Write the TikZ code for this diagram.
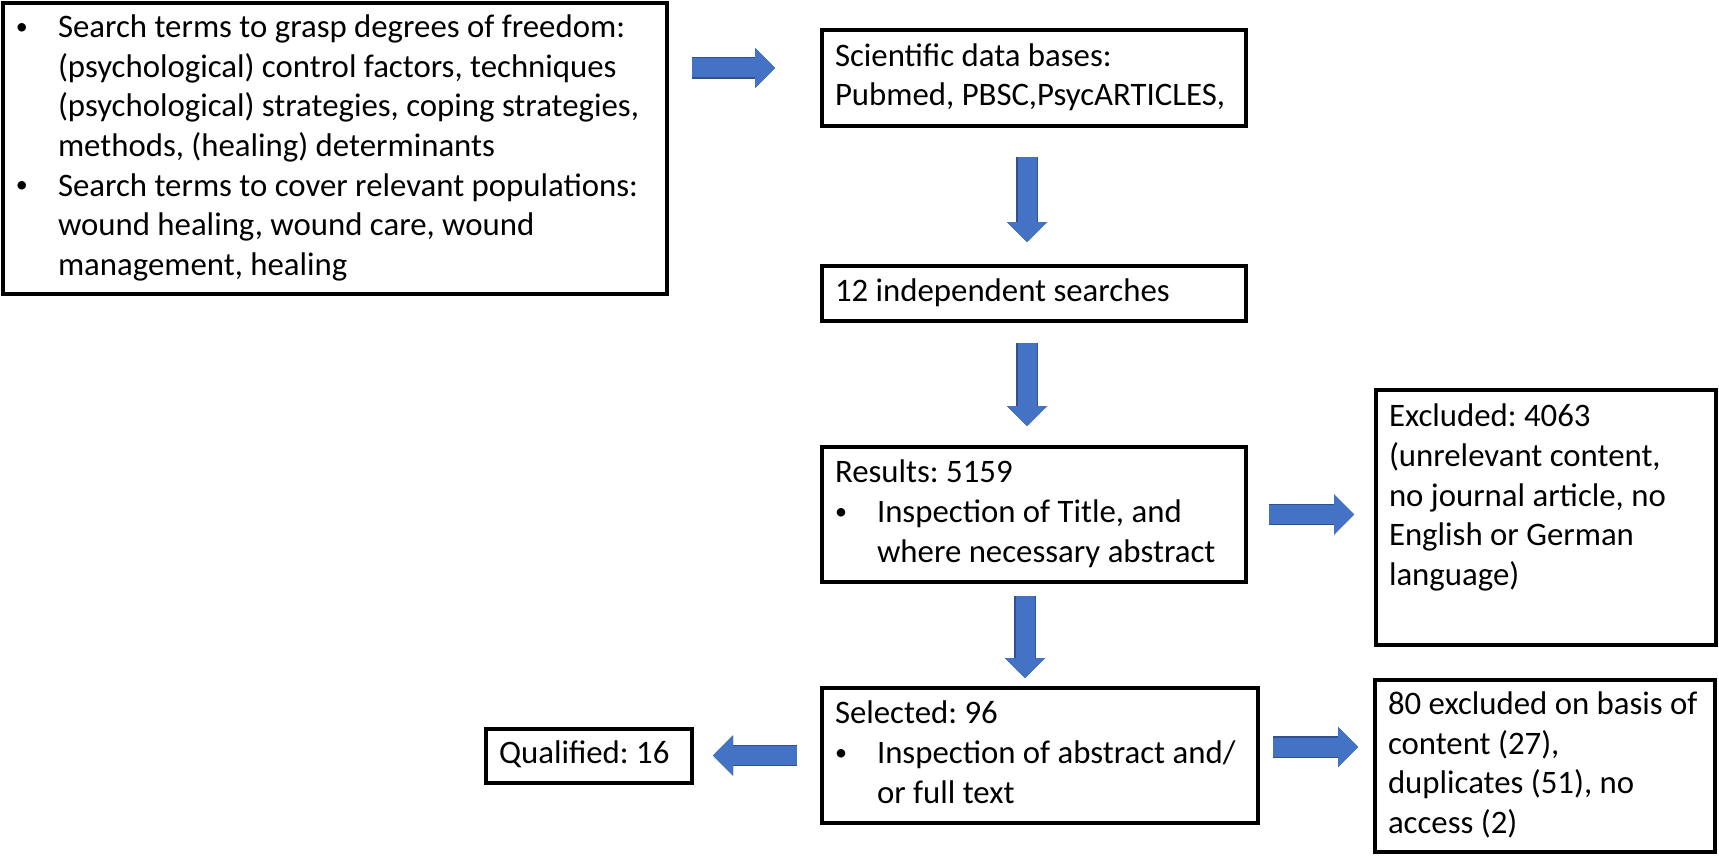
\documentclass[tikz,border=0pt]{standalone}
\usepackage{fontspec}
\setmainfont{Carlito}
\usetikzlibrary{positioning,arrows.meta,calc}
\frenchspacing

\definecolor{arrowblue}{HTML}{4472C4}
\definecolor{arrowedge}{HTML}{2F528F}

\newcommand{\full}[1]{\multicolumn{2}{@{}l@{}}{#1}}
\newcommand{\dotmark}{\raisebox{1.6pt}{\fontsize{12pt}{12pt}\selectfont\textbullet}}
\newcommand{\boxlines}[2]{\makebox[#1][l]{\begin{tabular}{@{}p{21pt}@{}l@{}}#2\end{tabular}}}

\tikzstyle{stage} = [rectangle,
                     draw=black,
                     line width=2pt,
                     inner xsep=6.5pt,
                     inner ysep=0pt,
                     font=\fontsize{16.4pt}{19.8pt}\selectfont]
\tikzstyle{flow} = [arrowblue,
                    line width=9.5pt,
                    -{Triangle[width=20pt,length=10pt,line width=0.1pt]},
                    preaction={draw=arrowedge, line width=10.7pt,
                               -{Triangle[width=20pt,length=10pt,line width=1.2pt]}}]

\begin{document}
\begin{tikzpicture}[node distance=60pt]
\useasboundingbox (0,0) rectangle (859.5pt,-428pt);
\node (terms) [stage, minimum width=332pt, minimum height=145.5pt, anchor=north west] at (0.5pt,-0.5pt) {\boxlines{319pt}{
  \dotmark & Search terms to grasp degrees of freedom:\\
  & (psychological) control factors, techniques\\
  & (psychological) strategies, coping strategies,\\
  & methods, (healing) determinants\\
  \dotmark & Search terms to cover relevant populations:\\
  & wound healing, wound care, wound\\
  & management, healing}};
\node (db) [stage, minimum width=212pt, minimum height=48pt, right=75.5pt of terms.north east, anchor=north west, yshift=-13.5pt] {\boxlines{199pt}{
  \full{Scientific data bases:}\\
  \full{Pubmed, PBSC,PsycARTICLES,}}};
\node (srch) [stage, minimum width=212pt, minimum height=27.5pt, below=68pt of db.south west, anchor=north west] {\boxlines{199pt}{\full{12 independent searches}}};
\node (res) [stage, minimum width=212pt, minimum height=67.5pt, below=61pt of srch.south west, anchor=north west] {\boxlines{199pt}{
  \full{Results: 5159}\\
  \dotmark & Inspection of Title, and\\
  & where necessary abstract}};
\node (sel) [stage, minimum width=218pt, minimum height=67.5pt, below=51pt of res.south west, anchor=north west] {\boxlines{205pt}{
  \full{Selected: 96}\\
  \dotmark & Inspection of abstract and/\\
  & or full text}};
\node (excl) [stage, minimum width=170pt, minimum height=127.5pt, right=63pt of res, yshift=-1.5pt] {\boxlines{157pt}{
  \full{Excluded: 4063}\\
  \full{(unrelevant content,}\\
  \full{no journal article, no}\\
  \full{English or German}\\
  \full{language)}\\[19.3pt]}};
\node (drop) [stage, minimum width=170pt, minimum height=86pt, right=56.5pt of sel, yshift=-5.25pt] {\boxlines{157pt}{
  \full{80 excluded on basis of}\\
  \full{content (27),}\\
  \full{duplicates (51), no}\\
  \full{access (2)}}};
\node (qual) [stage, minimum width=103pt, minimum height=27pt, left=63pt of sel] {\boxlines{90pt}{\full{Qualified: 16}}};

\draw[flow, shorten <=11.5pt, shorten >=22.5pt] ($(terms.east |- db.west)+(0,5pt)$) -- ($(db.west)+(0,5pt)$);
\draw[flow, shorten <=14.5pt, shorten >=11pt] ($(db.south)+(-3.5pt,0)$) -- ($(srch.north)+(-3.5pt,0)$);
\draw[flow, shorten <=10pt, shorten >=9.5pt] ($(srch.south)+(-3.5pt,0)$) -- ($(res.north)+(-3.5pt,0)$);
\draw[flow, shorten <=6pt, shorten >=4pt] ($(res.south)+(-4.5pt,0)$) -- ($(res.south |- sel.north)+(-4.5pt,0)$);
\draw[flow, shorten <=10.5pt, shorten >=10pt] (res.east) -- (res.east -| excl.west);
\draw[flow, shorten <=6.5pt, shorten >=7.5pt] ($(sel.east)+(0,4.25pt)$) -- ($(sel.east -| drop.west)+(0,4.25pt)$);
\draw[flow, shorten <=11.5pt, shorten >=9.5pt] (sel.west) -- (sel.west -| qual.east);
\end{tikzpicture}
\end{document}
